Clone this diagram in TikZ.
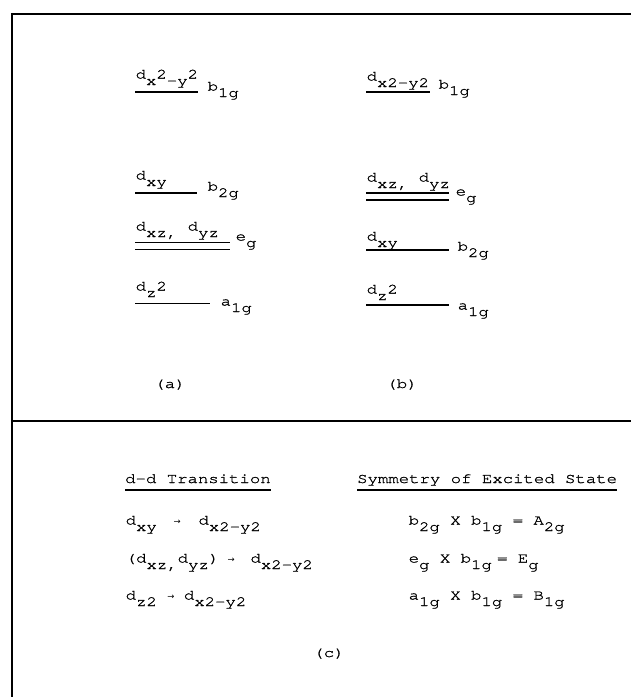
\documentclass[tikz,border=0pt]{standalone}
\usepackage{fontspec}
\newfontfamily\tw[FakeStretch=1.22,FakeBold=1.2]{TeX Gyre Cursor}
\newfontfamily\sym{DejaVu Sans}
\newlength\cw
\setlength\cw{10.4pt}
\newcommand\U[1]{\raisebox{6.5pt}{#1}}
\newcommand\pc[2]{\makebox[0pt][l]{\hspace*{#1\cw}#2}}
\newcommand\arr{{\sym\fontsize{8.5}{8.5}\selectfont →}}
\begin{document}
\begin{tikzpicture}[x=1pt,y=-1pt,
  t/.style={inner sep=0pt,anchor=base west,font=\tw\fontsize{14.2}{16}\selectfont},
  tc/.style={t,anchor=base},
  frame/.style={line width=2.3pt,black},
  lvl/.style={line width=1.1pt,black}]
\useasboundingbox (0,0) rectangle (631,697);
% frame
\draw[frame] (10.9,14) -- (631,14);
\draw[frame] (12,12.9) -- (12,697);
\draw[frame] (10.9,421) -- (631,421);
% panel (a)
\node[t] (a1) at (135,85) {\pc{0}{\U{d}}\pc{1}{x}\pc{2}{\U{2}}\pc{3}{-y}\pc{5}{\U{2}}};
\node[t] (a1s) at (207,97) {\pc{0}{\U{b}}\pc{1}{1g}};
\node[t] (a2) at (135,186) {\pc{0}{\U{d}}\pc{1}{xy}};
\node[t] (a2s) at (207,197) {\pc{0}{\U{b}}\pc{1}{2g}};
\node[t] (a3) at (135,237) {\pc{0}{\U{d}}\pc{1}{xz,}\pc{5}{\U{d}}\pc{6}{yz}};
\node[t] (a3s) at (235,247) {\pc{0}{\U{e}}\pc{1}{g}};
\node[t] (a4) at (135,297) {\pc{0}{\U{d}}\pc{1}{z}\pc{2}{\U{2}}};
\node[t] (a4s) at (220,312) {\pc{0}{\U{a}}\pc{1}{1g}};
\draw[lvl] (135,92) -- (198,92);
\draw[lvl] (135,193) -- (197,193);
\draw[lvl] (135,242.5) -- (230,242.5);
\draw[lvl] (135,249.5) -- (230,249.5);
\draw[lvl] (135,303.5) -- (210,303.5);
\node[tc] (la) at (170,388) {(a)};
% panel (b)
\node[t] (b1) at (366,87) {\pc{0}{\U{d}}\pc{1}{x2-y2}};
\node[t] (b1s) at (438,95) {\pc{0}{\U{b}}\pc{1}{1g}};
\node[t] (b2) at (366,188) {\pc{0}{\U{d}}\pc{1}{xz,}\pc{5}{\U{d}}\pc{6}{yz}};
\node[t] (b2s) at (455,202) {\pc{0}{\U{e}}\pc{1}{g}};
\node[t] (b3) at (366,247) {\pc{0}{\U{d}}\pc{1}{xy}};
\node[t] (b3s) at (457,257) {\pc{0}{\U{b}}\pc{1}{2g}};
\node[t] (b4) at (366,300) {\pc{0}{\U{d}}\pc{1}{z}\pc{2}{\U{2}}};
\node[t] (b4s) at (457,316) {\pc{0}{\U{a}}\pc{1}{1g}};
\draw[lvl] (366,92) -- (430,92);
\draw[lvl] (366,193) -- (449,193);
\draw[lvl] (366,200) -- (449,200);
\draw[lvl] (366,250) -- (449,250);
\draw[lvl] (366,305) -- (449,305);
\node[tc] (lb) at (402,388) {(b)};
% panel (c)
\node[t] (h1) at (125,483) {d-d Transition};
\node[t] (h2) at (357,483) {Symmetry of Excited State};
\draw[lvl] ([yshift=-7pt]h1.base west) -- ([yshift=-7pt]h1.base east);
\draw[lvl] ([yshift=-7pt]h2.base west) -- ([yshift=-7pt]h2.base east);
\node[t] (r1) at (125,531) {\pc{0}{\U{d}}\pc{1}{xy}\pc{4.6}{\U{\arr}}\pc{7}{\U{d}}\pc{8}{x2-y2}};
\node[t] (r2) at (125,569) {\pc{0}{\U{(}}\pc{1}{\U{d}}\pc{2}{xz,}\pc{5}{\U{d}}\pc{6}{yz}\pc{8}{\U{)}}\pc{9.8}{\U{\arr}}\pc{12}{\U{d}}\pc{13}{x2-y2}};
\node[t] (r3) at (125,606) {\pc{0}{\U{d}}\pc{1}{z2}\pc{4}{\U{\arr}}\pc{5.6}{\U{d}}\pc{6.6}{x2-y2}};
\node[t] (s1) at (408,531) {\pc{0}{\U{b}}\pc{1}{2g}\pc{4}{\U{X}}\pc{6}{\U{b}}\pc{7}{1g}\pc{10}{\U{=}}\pc{12}{\U{A}}\pc{13}{2g}};
\node[t] (s2) at (408,569) {\pc{0}{\U{e}}\pc{1}{g}\pc{3}{\U{X}}\pc{5}{\U{b}}\pc{6}{1g}\pc{8.5}{\U{=}}\pc{10.5}{\U{E}}\pc{11.5}{g}};
\node[t] (s3) at (408,606) {\pc{0}{\U{a}}\pc{1}{1g}\pc{4}{\U{X}}\pc{6}{\U{b}}\pc{7}{1g}\pc{10}{\U{=}}\pc{12}{\U{B}}\pc{13}{1g}};
\node[tc] (lc) at (329,657) {(c)};
\end{tikzpicture}
\end{document}
